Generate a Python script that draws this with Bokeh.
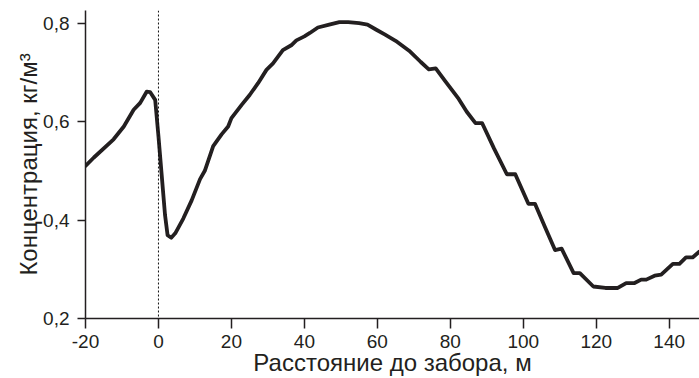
from bokeh.plotting import figure
from bokeh.models import Range1d, FixedTicker, CustomJSTickFormatter, Span
from bokeh.embed import file_html
from bokeh.resources import INLINE

distance = [-20, -17.7, -12.3, -9.5, -6.8, -5.0, -3.2, -2.3, -0.9, 0,
            0.9, 1.8, 2.5, 3.5, 4.6, 6.8, 9.1, 11.4, 12.7, 15.0,
            17.3, 19.1, 20.0, 22.8, 25.0, 27.3, 29.6, 31.4, 34.1, 36.4,
            37.8, 40.0, 41.5, 43.7, 46.8, 49.6, 52, 55.0, 57.3, 59.6,
            62, 65.0, 68.7, 71.9, 74.1, 76.0, 78.7, 82.3, 84.5, 86.9,
            88.7, 92, 95.5, 97.8, 101.4, 103.2, 106, 108.7, 110.5, 113.8,
            115.5, 119.2, 122.5, 125.9, 128.2, 130.5, 132.3, 133.7, 136.0, 137.8,
            141.0, 142.8, 144.6, 146.4, 148.3]
concentration = [0.51, 0.527, 0.564, 0.59, 0.624, 0.638, 0.661, 0.66, 0.644, 0.57,
                 0.49, 0.41, 0.369, 0.364, 0.373, 0.403, 0.44, 0.483, 0.50, 0.55,
                 0.574, 0.59, 0.607, 0.634, 0.654, 0.678, 0.705, 0.718, 0.745, 0.755,
                 0.765, 0.773, 0.78, 0.791, 0.797, 0.802, 0.802, 0.80, 0.797, 0.787,
                 0.777, 0.764, 0.744, 0.721, 0.706, 0.708, 0.681, 0.646, 0.62, 0.597,
                 0.597, 0.545, 0.493, 0.493, 0.433, 0.433, 0.385, 0.339, 0.342, 0.292,
                 0.292, 0.265, 0.262, 0.262, 0.272, 0.272, 0.279, 0.279, 0.287, 0.289,
                 0.311, 0.311, 0.324, 0.324, 0.336]

x_ticks = [-20, 0, 20, 40, 60, 80, 100, 120, 140]
y_ticks = [0.2, 0.4, 0.6, 0.8]
x_label = "Расстояние до забора, м"
y_label = "Концентрация, кг/м³"

FONT = "Liberation Sans"

p = figure(width=699, height=378, output_backend="svg", toolbar_location=None,
           x_range=Range1d(-20, 148.3), y_range=Range1d(0.2, 0.8256),
           min_border_left=85, min_border_right=0, min_border_top=10, min_border_bottom=58)
p.outline_line_color = None
p.xgrid.visible = False
p.ygrid.visible = False
p.background_fill_color = "white"
p.border_fill_color = "white"

p.line(distance, concentration, line_width=3.8, line_color="#231f20",
       line_join="round", line_cap="round")

p.add_layout(Span(location=0, dimension="height", line_color="#111111",
                  line_width=1, line_dash="2 2"))

for ax in (p.xaxis[0], p.yaxis[0]):
    ax.axis_line_color = "#231f20"
    ax.axis_line_width = 1.5
    ax.major_tick_line_color = "#231f20"
    ax.major_tick_line_width = 1.5
    ax.major_tick_in = 0
    ax.minor_tick_line_color = None
    ax.major_label_text_font = FONT
    ax.major_label_text_font_size = "19px"
    ax.major_label_text_color = "#231f20"
    ax.axis_label_text_font = FONT
    ax.axis_label_text_font_size = "24px"
    ax.axis_label_text_font_style = "normal"
    ax.axis_label_text_color = "#231f20"

p.xaxis.ticker = FixedTicker(ticks=x_ticks)
p.yaxis.ticker = FixedTicker(ticks=y_ticks)
p.xaxis.major_tick_out = 10
p.yaxis.major_tick_out = 8
p.xaxis.major_label_standoff = 6
p.yaxis.major_label_standoff = 8
p.xaxis.axis_label = x_label
p.yaxis.axis_label = y_label
p.xaxis.axis_label_standoff = -2
p.yaxis.axis_label_standoff = -2
p.yaxis.formatter = CustomJSTickFormatter(code="return tick.toFixed(1).replace('.', ',');")
p.xaxis.formatter = CustomJSTickFormatter(code="return tick.toFixed(0);")

open("out.html", "w").write(file_html(p, INLINE))
